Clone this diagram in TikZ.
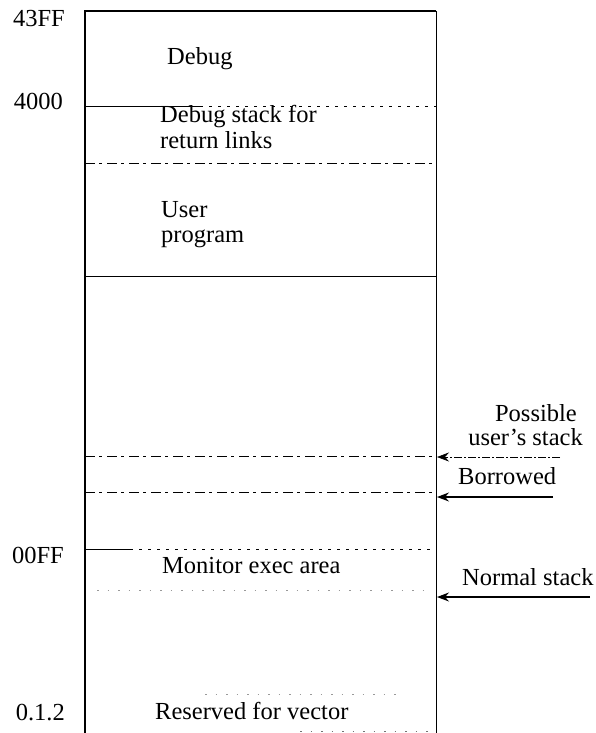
\documentclass[tikz,border=0pt]{standalone}
\usepackage{fontspec}
\setmainfont{Liberation Serif}
\usetikzlibrary{arrows.meta}
\begin{document}
\begin{tikzpicture}[x=1pt,y=-1pt,
  lbl/.style={inner sep=0pt,font=\fontsize{24.5}{26}\selectfont},
  addr/.style={lbl,anchor=base east},
  region/.style={lbl,anchor=base west},
  side/.style={lbl,anchor=base east},
  edgeline/.style={line width=1.1pt},
  divsolid/.style={line width=0.9pt},
  divdash/.style={line width=0.8pt,dash pattern=on 10pt off 4pt on 3pt off 5pt},
  divdot/.style={line width=0.7pt,dash pattern=on 3pt off 6pt},
  faint/.style={line width=0.5pt,black!40,dash pattern=on 1.5pt off 9pt},
  ptr/.style={line width=1pt,-{Stealth[length=12pt,width=9pt,inset=4pt]}},
]
\useasboundingbox (0,0) rectangle (595,733);

% memory block outline
\coordinate (tl) at (85,11);
\coordinate (tr) at (436,11);
\coordinate (bl) at (85,733);
\coordinate (br) at (436,733);
\draw[edgeline] (bl) -- (tl) -- (tr);
\draw[line width=0.9pt] (tr) -- (br);
\draw[faint,black!55] (300,731) -- (436,731);

% region boundaries
\draw[divsolid] (85,106) -- (200,106);
\draw[divdot] (200,106) -- (436,106);
\draw[divdash] (85,163) -- (436,163);
\draw[divsolid] (85,276) -- (436,276);
\draw[divdash] (85,456) -- (436,456);
\draw[divdash] (85,492) -- (436,492);
\draw[divsolid] (85,549) -- (130,549);
\draw[divdot] (130,549) -- (436,549);
\draw[faint] (97,590) -- (430,590);
\draw[faint] (205,694) -- (400,694);

% addresses
\node[addr] (a43FF) at (65,27) {43FF};
\node[addr] (a4000) at (63,110) {4000};
\node[addr] (a00FF) at (64,563) {00FF};
\node[addr] (a012)  at (65,720) {0.1.2};

% region names
\node[region] (debug)   at (167,65)  {Debug};
\node[region] (dstackA) at (160,123) {Debug stack for};
\node[region] (dstackB) at (160,148) {return links};
\node[region] (userA)   at (161,217) {User};
\node[region] (userB)   at (161,242) {program};
\node[region] (monitor) at (162,573) {Monitor exec area};
\node[region] (vector)  at (155,719) {Reserved for vector};

% stack pointers
\node[side] (possA) at (577,421) {Possible};
\node[side] (possB) at (583,445) {user’s stack};
\node[region] (borrow) at (458,484) {Borrowed};
\node[region] (normal) at (462,585) {Normal stack};

\coordinate (usrTail) at (560,457);
\coordinate (usrHead) at (437,457);
\coordinate (borTail) at (553,497);
\coordinate (borHead) at (437,497);
\coordinate (nrmTail) at (590,597);
\coordinate (nrmHead) at (437,597);
\draw[ptr,line width=0.7pt,dash pattern=on 8pt off 2pt on 2pt off 2pt] (usrTail) -- (usrHead);
\draw[ptr,line width=1.2pt] (borTail) -- (borHead);
\draw[ptr,line width=1.1pt] (nrmTail) -- (nrmHead);
\end{tikzpicture}
\end{document}
